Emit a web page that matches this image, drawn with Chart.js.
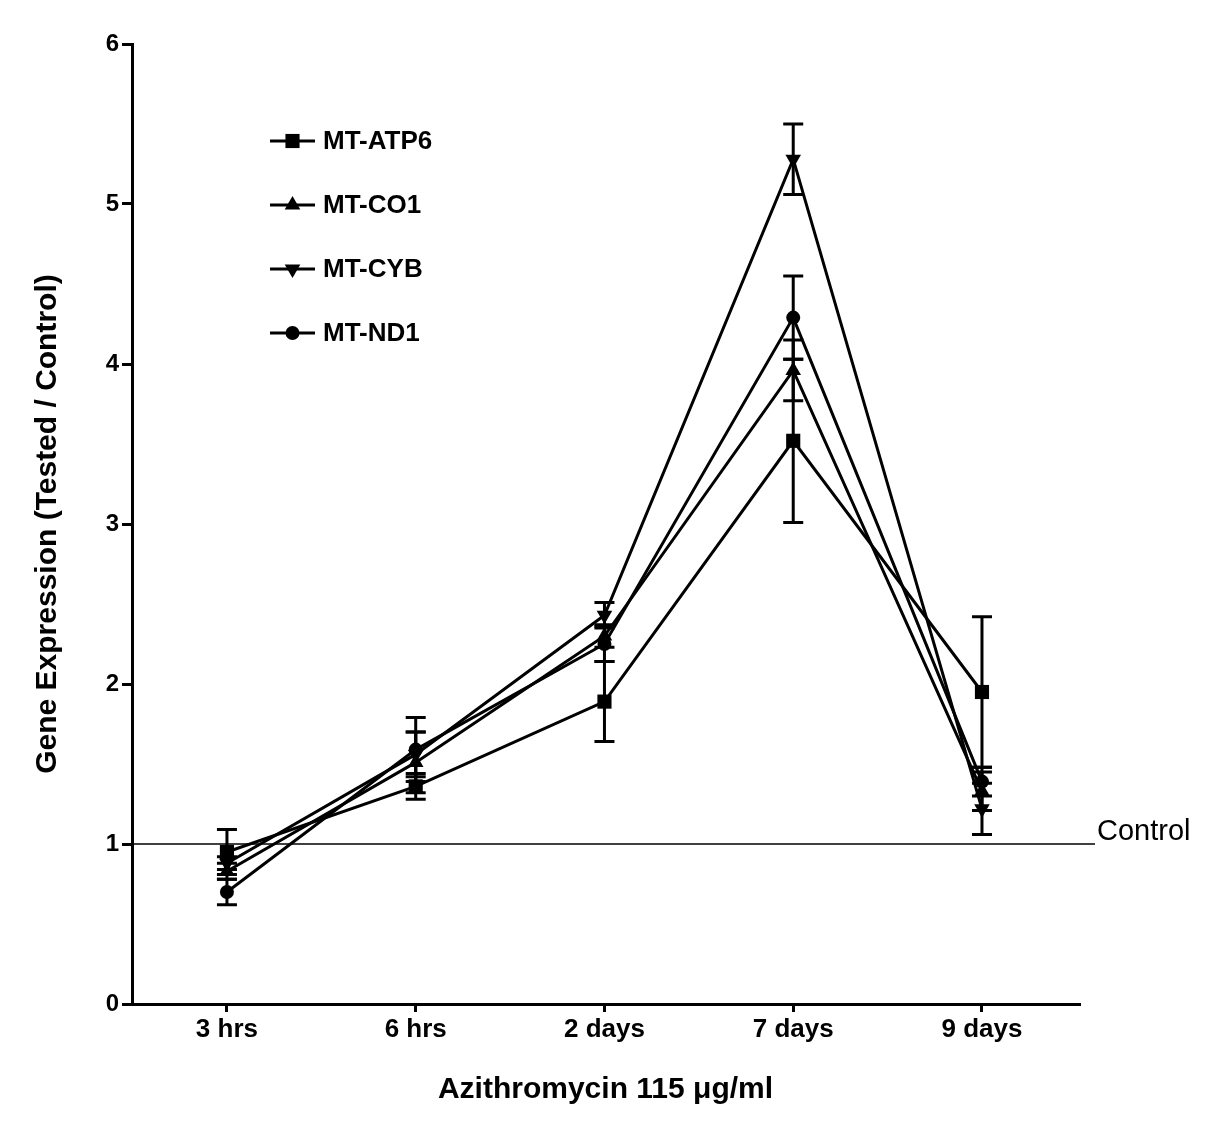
<!DOCTYPE html>
<html>
<head>
<meta charset="utf-8">
<title>Gene Expression - Azithromycin</title>
<script src="https://cdn.jsdelivr.net/npm/chart.js@4.4.1/dist/chart.umd.min.js"></script>
<style>
  html, body { margin: 0; padding: 0; background: #fff; }
  #wrap { width: 1221px; height: 1124px; }
</style>
</head>
<body>
<div id="wrap"><canvas id="expressionChart" width="1221" height="1124"></canvas></div>
<script>
// Time points and fold-change (tested / control) with error bars
const categories = ["3 hrs", "6 hrs", "2 days", "7 days", "9 days"];
const yTicks = [0, 1, 2, 3, 4, 5, 6];
const controlLevel = 1;

const atp6 = [0.95, 1.36, 1.89, 3.52, 1.95];
const atp6Err = [0.14, 0.08, 0.25, 0.51, 0.47];
const co1 = [0.83, 1.51, 2.30, 3.96, 1.33];
const co1Err = [0.05, 0.19, 0.07, 0.19, 0.12];
const cyb = [0.88, 1.56, 2.43, 5.28, 1.22];
const cybErr = [0.04, 0.14, 0.08, 0.22, 0.16];
const nd1 = [0.70, 1.59, 2.25, 4.29, 1.39];
const nd1Err = [0.08, 0.20, 0.11, 0.26, 0.09];

const FONT = "'Liberation Sans', Arial, sans-serif";

function toPoints(values) {
  return values.map((v, i) => ({ x: i, y: v }));
}

function series(label, values, errors, pointStyle, radius, rotation) {
  return {
    label: label,
    data: toPoints(values),
    errors: errors,
    borderColor: "#000",
    backgroundColor: "#000",
    borderWidth: 3,
    pointStyle: pointStyle,
    pointRadius: radius,
    pointRotation: rotation || 0,
    pointBorderWidth: 0,
    pointBackgroundColor: "#000",
    tension: 0,
    fill: false,
  };
}

// vertical error bars with caps
const errorBars = {
  id: "errorBars",
  afterDatasetsDraw(chart) {
    const ctx = chart.ctx;
    const xs = chart.scales.x;
    const ys = chart.scales.y;
    ctx.save();
    ctx.strokeStyle = "#000";
    ctx.lineWidth = 3;
    chart.data.datasets.forEach((ds) => {
      ds.data.forEach((p, i) => {
        const e = ds.errors[i];
        const px = xs.getPixelForValue(p.x);
        const top = ys.getPixelForValue(p.y + e);
        const bot = ys.getPixelForValue(p.y - e);
        ctx.beginPath();
        ctx.moveTo(px, top);
        ctx.lineTo(px, bot);
        ctx.moveTo(px - 10, top);
        ctx.lineTo(px + 10, top);
        ctx.moveTo(px - 10, bot);
        ctx.lineTo(px + 10, bot);
        ctx.stroke();
      });
    });
    ctx.restore();
  },
};

// horizontal control reference line with its label
const controlLine = {
  id: "controlLine",
  afterDatasetsDraw(chart) {
    const ctx = chart.ctx;
    const area = chart.chartArea;
    const y = chart.scales.y.getPixelForValue(controlLevel);
    const end = area.right + 16;
    ctx.save();
    ctx.strokeStyle = "#000";
    ctx.lineWidth = 1.5;
    ctx.beginPath();
    ctx.moveTo(area.left, y);
    ctx.lineTo(end, y);
    ctx.stroke();
    ctx.fillStyle = "#000";
    ctx.font = "29px " + FONT;
    ctx.textBaseline = "alphabetic";
    ctx.textAlign = "left";
    ctx.fillText("Control", end + 2, y - 4);
    ctx.restore();
  },
};

// legend: short line with marker, then bold label
const lineLegend = {
  id: "lineLegend",
  afterDraw(chart) {
    const ctx = chart.ctx;
    const x0 = 270, x1 = 315, tx = 323;
    let y = 141;
    ctx.save();
    chart.data.datasets.forEach((ds) => {
      ctx.strokeStyle = "#000";
      ctx.lineWidth = 3;
      ctx.beginPath();
      ctx.moveTo(x0, y);
      ctx.lineTo(x1, y);
      ctx.stroke();
      ctx.fillStyle = "#000";
      Chart.helpers.drawPoint(ctx, {
        pointStyle: ds.pointStyle,
        radius: ds.pointRadius,
        rotation: ds.pointRotation,
        borderWidth: 0,
      }, (x0 + x1) / 2, y);
      ctx.font = "bold 26px " + FONT;
      ctx.textBaseline = "middle";
      ctx.textAlign = "left";
      ctx.fillText(ds.label, tx, y + 1);
      y += 64;
    });
    ctx.restore();
  },
};

const ctx = document.getElementById("expressionChart").getContext("2d");
new Chart(ctx, {
  type: "line",
  data: {
    datasets: [
      series("MT-ATP6", atp6, atp6Err, "rect", 10),
      series("MT-CO1", co1, co1Err, "triangle", 9),
      series("MT-CYB", cyb, cybErr, "triangle", 9, 180),
      series("MT-ND1", nd1, nd1Err, "circle", 7),
    ],
  },
  options: {
    responsive: false,
    animation: false,
    layout: { padding: { left: 0, top: 44, right: 142, bottom: 0 } },
    plugins: {
      legend: { display: false },
      tooltip: { enabled: false },
    },
    scales: {
      x: {
        type: "linear",
        min: -0.503,
        max: 4.514,
        afterBuildTicks(scale) {
          scale.ticks = categories.map((c, i) => ({ value: i }));
        },
        afterFit(scale) {
          scale.height = 120;
        },
        ticks: {
          color: "#000",
          padding: 2,
          font: { family: FONT, size: 26, weight: "bold" },
          callback: (v) => categories[v],
        },
        grid: {
          display: true,
          drawOnChartArea: false,
          drawTicks: true,
          tickLength: 8,
          color: "#000",
          lineWidth: 3,
        },
        border: { display: true, color: "#000", width: 3 },
        title: {
          display: true,
          text: "Azithromycin 115 μg/ml",
          color: "#000",
          font: { family: FONT, size: 30, weight: "bold" },
          padding: { top: 0, bottom: 16 },
        },
      },
      y: {
        min: 0,
        max: 6,
        afterBuildTicks(scale) {
          scale.ticks = yTicks.map((v) => ({ value: v }));
        },
        afterFit(scale) {
          scale.width = 132;
        },
        ticks: {
          color: "#000",
          padding: 3,
          font: { family: FONT, size: 24, weight: "bold" },
        },
        grid: {
          display: true,
          drawOnChartArea: false,
          drawTicks: true,
          tickLength: 10,
          color: "#000",
          lineWidth: 3,
        },
        border: { display: true, color: "#000", width: 3 },
        title: {
          display: true,
          text: "Gene Expression (Tested / Control)",
          color: "#000",
          font: { family: FONT, size: 30, weight: "bold" },
          padding: { top: 30, bottom: 0 },
        },
      },
    },
  },
  plugins: [controlLine, errorBars, lineLegend],
});
</script>
</body>
</html>
